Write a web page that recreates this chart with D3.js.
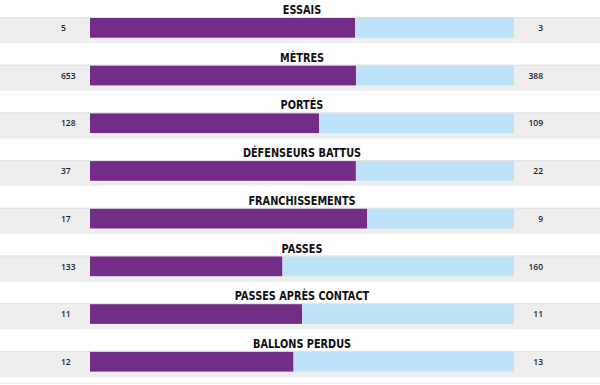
<!DOCTYPE html>
<html>
<head>
<meta charset="utf-8">
<script src="https://cdn.jsdelivr.net/npm/d3@7"></script>
<style>
  body { margin: 0; background: #fff; }
  svg { display: block; }
</style>
</head>
<body>
<div id="chart"></div>
<script>
const categories = ['ESSAIS', 'MÈTRES', 'PORTÉS', 'DÉFENSEURS BATTUS', 'FRANCHISSEMENTS', 'PASSES', 'PASSES APRÈS CONTACT', 'BALLONS PERDUS']
const homeValues = [5, 653, 128, 37, 17, 133, 11, 12]
const awayValues = [3, 388, 109, 22, 9, 160, 11, 13]

const width = 600
const height = 385

const svg = d3
  .select('#chart')
  .append('svg')
  .attr('width', width)
  .attr('height', height)

const rows = categories.map((c, i) => ({
  name: c,
  home: homeValues[i],
  away: awayValues[i]
}))

// one band per stat, the grey strip starts at the band top
const yPositionScale = d3
  .scaleBand()
  .domain(categories)
  .range([17, 17 + 47.7 * categories.length])

const barLeft = 90
const barRight = 514

const row = svg
  .selectAll('.row')
  .data(rows)
  .enter()
  .append('g')
  .attr('class', 'row')
  .attr('transform', d => 'translate(0,' + yPositionScale(d.name) + ')')

// grey strip
row.append('rect')
  .attr('x', 0)
  .attr('y', 0)
  .attr('width', width)
  .attr('height', 26)
  .attr('fill', '#eeeeee')

row.append('rect')
  .attr('x', 0)
  .attr('y', 0)
  .attr('width', width)
  .attr('height', 1)
  .attr('fill', '#e2e2e2')

// stat title, squeezed to get the condensed look
row.append('g')
  .attr('transform', 'translate(' + (width / 2 + 2) + ',-3) scale(0.78,1)')
  .append('text')
  .attr('text-anchor', 'middle')
  .attr('font-family', '"DejaVu Sans", sans-serif')
  .attr('font-weight', 'bold')
  .attr('font-size', 12.5)
  .attr('fill', '#111')
  .text(d => d.name)

// bars, each row split on its own total
row.each(function(d) {
  const xPositionScale = d3
    .scaleLinear()
    .domain([0, d.home + d.away])
    .range([barLeft, barRight])

  const g = d3.select(this)

  g.append('rect')
    .attr('x', xPositionScale(0))
    .attr('y', 1)
    .attr('width', xPositionScale(d.home) - xPositionScale(0))
    .attr('height', 19.7)
    .attr('fill', '#742d87')

  g.append('rect')
    .attr('x', xPositionScale(d.home))
    .attr('y', 1)
    .attr('width', xPositionScale(d.home + d.away) - xPositionScale(d.home))
    .attr('height', 19.7)
    .attr('fill', '#bde3f8')
})

// values either side
row.append('text')
  .attr('x', 61)
  .attr('y', 14)
  .attr('font-family', '"Open Sans", sans-serif')
  .attr('font-weight', 600)
  .attr('font-size', 8.5)
  .attr('fill', '#1b1f3a')
  .text(d => d.home)

row.append('text')
  .attr('x', 543)
  .attr('y', 14)
  .attr('text-anchor', 'end')
  .attr('font-family', '"Open Sans", sans-serif')
  .attr('font-weight', 600)
  .attr('font-size', 8.5)
  .attr('fill', '#1b1f3a')
  .text(d => d.away)

// faint rule below the last row
svg.append('rect')
  .attr('x', 0)
  .attr('y', 383)
  .attr('width', width)
  .attr('height', 1)
  .attr('fill', '#ececec')
</script>
</body>
</html>
